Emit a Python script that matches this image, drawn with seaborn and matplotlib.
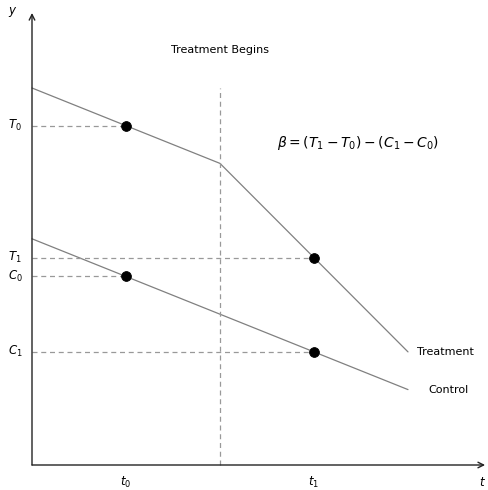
import numpy as np
import pandas as pd
import matplotlib
matplotlib.use("Agg")
import matplotlib.pyplot as plt
import seaborn as sns

# time points: t0, treatment start, t1, end
time = [0, 1, 2, 3, 4]
treatment = [10, 9, 8, 5.5, 3]
control = [6, 5, 4, 3, 2]
obs_t = [1, 3]
obs_treat = [9, 5.5]
obs_ctrl = [5, 3]
y_ticks = ["$T_0$", "$T_1$", "$C_0$", "$C_1$"]
x_ticks = ["$t_0$", "$t_1$"]

sns.set_style("white")
plt.rcParams["font.family"] = ["DejaVu Sans"]
plt.rcParams["mathtext.fontset"] = "dejavusans"
plt.rcParams["text.color"] = "black"

fig = plt.figure(figsize=(4.89, 4.90), dpi=100)
ax = fig.add_axes([0, 0, 1, 1])
ax.set_xlim(-32 / 94, 457 / 94)
ax.set_ylim(-25 / 37.7, 465 / 37.7)
ax.axis("off")

grey = "#808080"
df = pd.DataFrame({"t": time, "Treatment": treatment, "Control": control})
sns.lineplot(data=df, x="t", y="Treatment", ax=ax, color=grey, lw=0.9)
sns.lineplot(data=df, x="t", y="Control", ax=ax, color=grey, lw=0.9)

# dashed guides
dash = dict(color="#999999", lw=0.9, ls=(0, (4, 3)))
ax.plot([0, obs_t[0]], [obs_treat[0]] * 2, **dash)
ax.plot([0, obs_t[1]], [obs_treat[1]] * 2, **dash)
ax.plot([0, obs_t[0]], [obs_ctrl[0]] * 2, **dash)
ax.plot([0, obs_t[1]], [obs_ctrl[1]] * 2, **dash)
ax.plot([2, 2], [0, treatment[0]], **dash)

pts = pd.DataFrame({"t": obs_t * 2, "v": obs_treat + obs_ctrl})
sns.scatterplot(data=pts, x="t", y="v", ax=ax, color="black", s=50, zorder=5,
                edgecolor="black")

# axes with arrows
arrow = dict(arrowstyle="->", color="#222222", lw=1.0, shrinkA=0, shrinkB=0)
ax.annotate("", xy=(4.82, 0), xytext=(0, 0), arrowprops=arrow)
ax.annotate("", xy=(0, 11.99), xytext=(0, 0), arrowprops=arrow)

fs = 8.5
for lab, v in zip(y_ticks, [obs_treat[0], obs_treat[1], obs_ctrl[0], obs_ctrl[1]]):
    ax.text(-0.18, v, lab, ha="center", va="center", fontsize=fs)
for lab, v in zip(x_ticks, obs_t):
    ax.text(v, -0.46, lab, ha="center", va="center", fontsize=fs)
ax.text(4.79, -0.46, "$t$", ha="center", va="center", fontsize=fs)
ax.text(-0.21, 12.02, "$y$", ha="center", va="center", fontsize=fs)

ax.text(2, 11.0, "Treatment Begins", ha="center", va="center", fontsize=8)
ax.text(3.47, 8.55, r"$\beta = (T_1 - T_0) - (C_1 - C_0)$", ha="center",
        va="center", fontsize=10)
ax.text(4.1, 3.0, "Treatment", ha="left", va="center", fontsize=8)
ax.text(4.22, 2.0, "Control", ha="left", va="center", fontsize=8)

fig.savefig("out.png", dpi=100)
